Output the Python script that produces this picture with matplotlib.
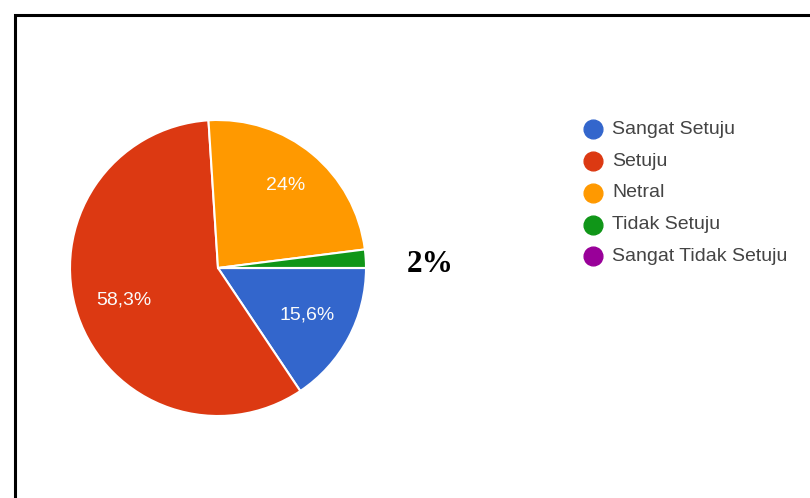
import numpy as np
import matplotlib.pyplot as plt
from matplotlib.patches import Rectangle

categories = ["Sangat Setuju", "Setuju", "Netral", "Tidak Setuju", "Sangat Tidak Setuju"]
values = [15.6, 58.3, 24.0, 2.0, 0.0]
colors = ["#3366CC", "#DC3912", "#FF9900", "#109618", "#990099"]

plt.rcParams['font.family'] = ['Liberation Sans', 'DejaVu Sans']

W, H = 810, 498
fig = plt.figure(figsize=(W / 100, H / 100), dpi=100)

# black frame, running off the right and bottom edges
fig.patches.append(Rectangle((15 / W, -0.05), 1.2, (H - 15) / H + 0.05,
                             transform=fig.transFigure, fill=False,
                             edgecolor="black", linewidth=2.2))

# pie
cx, cy, r = 218, 268, 148
ax = fig.add_axes([(cx - r) / W, (H - cy - r) / H, 2 * r / W, 2 * r / H])
wedges, _ = ax.pie(values, colors=colors, startangle=0, counterclock=False,
                   radius=1, wedgeprops=dict(edgecolor="white", linewidth=1.5))
ax.set_xlim(-1, 1)
ax.set_ylim(-1, 1)
ax.set_aspect("equal")
ax.axis("off")

# percentage labels inside the larger slices
label_dist = [0.68, 0.67, 0.72]
for w, v, d in zip(wedges[:3], values[:3], label_dist):
    mid = np.deg2rad((w.theta1 + w.theta2) / 2)
    txt = f"{v:g}%".replace(".", ",")
    ax.text(d * np.cos(mid), d * np.sin(mid), txt, ha="center", va="center",
            color="#fbfbfb", fontsize=14)

# small slice value written beside the pie
fig.text(430 / W, 1 - 265 / H, f"{values[3]:g}%", ha="center", va="center",
         fontsize=22.5, fontweight="bold", family="Liberation Serif")

# legend
lx, ly0, step = 593, 129.5, 31.7
for i, (name, c) in enumerate(zip(categories, colors)):
    y = 1 - (ly0 + i * step) / H
    fig.add_artist(plt.Line2D([lx / W], [y], marker="o", markersize=13.5,
                              color=c, transform=fig.transFigure))
    fig.text(612 / W, y, name, ha="left", va="center", fontsize=14,
             color="#444444")

fig.savefig("out.png", dpi=100)
